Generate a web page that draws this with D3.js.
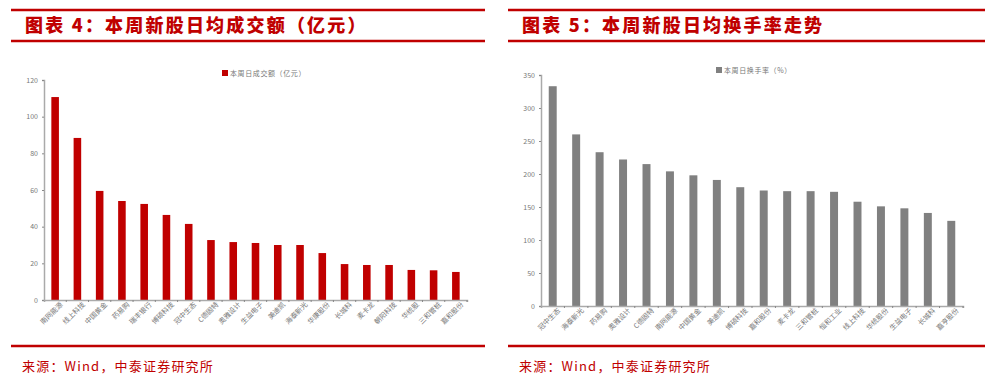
<!DOCTYPE html>
<html>
<head>
<meta charset="utf-8">
<script src="https://cdn.jsdelivr.net/npm/d3@7"></script>
<style>
  body { margin: 0; background: #fff; }
  svg { display: block; }
  .title { font-family: "Noto Sans CJK SC", sans-serif; font-weight: 900; fill: #c00000; font-size: 18px; letter-spacing: 2.2px; }
  .source { font-family: "Noto Sans CJK SC", sans-serif; fill: #c00000; font-size: 13px; letter-spacing: 1.2px; }
  .tick text { font-family: "Noto Sans CJK SC", sans-serif; fill: #777; font-size: 7px; }
  .legend { font-family: "Noto Sans CJK SC", sans-serif; fill: #777; font-size: 7px; letter-spacing: 0.6px; }
</style>
</head>
<body>
<div class="chart"></div>
<script>
var svgWidth = 1006;
var svgHeight = 385;

// Chart 4: daily average turnover (亿元)
var amountNames = ["南网能源", "线上科技", "中国黄金", "药易购", "瑞丰银行", "博硕科技", "冠中生态", "C德固特",
  "奥雅设计", "生益电子", "美迪凯", "海泰新光", "华康股份", "长城科", "麦卡龙", "朝阳科技", "华统股", "三和管桩", "嘉和股份"];
var amountValues = [110.7, 88.4, 59.5, 54, 52.4, 46.4, 41.5, 32.7, 31.6, 31.1, 30, 30, 25.6, 19.6, 19.1, 19.1, 16.4, 16.2, 15.3];
var amountTicks = [0, 20, 40, 60, 80, 100, 120];

// Chart 5: daily turnover rate (%)
var rateNames = ["冠中生态", "海泰新光", "药易购", "奥雅设计", "C德固特", "南网能源", "中国黄金", "美迪凯", "博硕科技",
  "嘉和股份", "麦卡龙", "三和管桩", "恒和工业", "线上科技", "华统股份", "生益电子", "长城科", "嘉亨股份"];
var rateValues = [333, 260, 233, 222, 215, 204, 198, 191, 180, 175, 174, 174, 173, 158, 151, 148, 141, 129];
var rateTicks = [0, 50, 100, 150, 200, 250, 300, 350];

var svg = d3.select(".chart")
  .append("svg")
  .attr("width", svgWidth)
  .attr("height", svgHeight);

function drawPanel(opt) {
  var g = svg.append("g");

  // header and footer rules
  [10, 41, 346].forEach(function(y) {
    g.append("line")
      .attr("x1", opt.x0).attr("x2", opt.x1)
      .attr("y1", y).attr("y2", y)
      .attr("stroke", "#c00000")
      .attr("stroke-width", 2.5);
  });

  g.append("text")
    .attr("class", "title")
    .attr("x", opt.x0 + 14)
    .attr("y", 32)
    .text(opt.title);

  g.append("text")
    .attr("class", "source")
    .attr("x", opt.x0 + 11)
    .attr("y", 371)
    .text("来源：Wind，中泰证券研究所");

  var x = d3.scaleBand()
    .domain(opt.names)
    .range([opt.left, opt.right])
    .paddingInner(0.66)
    .paddingOuter(0.33);

  var y = d3.scaleLinear()
    .domain([0, opt.max])
    .range([opt.bottom, opt.top]);

  var leftAxis = d3.axisLeft(y).tickValues(opt.ticks).tickSize(2).tickPadding(4);
  var bottomAxis = d3.axisBottom(x).tickSize(2).tickPadding(3).tickSizeOuter(2);

  var ya = g.append("g")
    .attr("transform", `translate(${opt.left}, 0)`)
    .call(leftAxis);
  ya.select(".domain").attr("stroke", "#aaa").attr("stroke-width", 1.5);
  ya.selectAll(".tick line").attr("stroke", "#888");

  g.selectAll(".bar")
    .data(opt.values)
    .enter()
    .append("rect")
    .attr("x", (d, i) => x(opt.names[i]))
    .attr("y", d => y(d))
    .attr("width", x.bandwidth())
    .attr("height", d => opt.bottom - y(d))
    .attr("fill", opt.color);

  var xa = g.append("g")
    .attr("transform", `translate(0, ${opt.bottom})`)
    .call(bottomAxis);
  xa.select(".domain").attr("stroke", "#aaa").attr("stroke-width", 1.5);
  xa.selectAll(".tick line").attr("stroke", "#888")
    .attr("transform", `translate(${x.step() / 2}, 0)`);
  xa.selectAll(".tick text")
    .attr("text-anchor", "end")
    .attr("dx", "0.3em")
    .attr("dy", "0.6em")
    .attr("transform", "rotate(-45)");

  // legend
  g.append("rect")
    .attr("x", opt.legendX)
    .attr("y", opt.legendY - 6)
    .attr("width", 6).attr("height", 6)
    .attr("fill", opt.color);
  g.append("text")
    .attr("class", "legend")
    .attr("x", opt.legendX + 8)
    .attr("y", opt.legendY)
    .text(opt.legend);
}

drawPanel({
  x0: 11, x1: 485,
  title: "图表 4：本周新股日均成交额（亿元）",
  names: amountNames, values: amountValues, ticks: amountTicks, max: 120,
  left: 44, right: 467, top: 80, bottom: 300,
  color: "#c00000",
  legendX: 222, legendY: 76, legend: "本周日成交额（亿元）"
});

drawPanel({
  x0: 508, x1: 985,
  title: "图表 5：本周新股日均换手率走势",
  names: rateNames, values: rateValues, ticks: rateTicks, max: 350,
  left: 541, right: 963, top: 75, bottom: 306,
  color: "#808080",
  legendX: 716, legendY: 73, legend: "本周日换手率（%）"
});
</script>
</body>
</html>
